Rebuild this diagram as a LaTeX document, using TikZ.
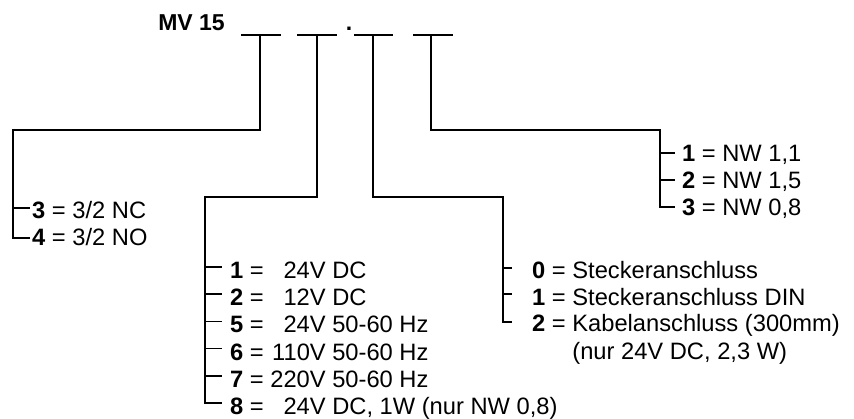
\documentclass[tikz,border=0pt]{standalone}
\usepackage{fontspec}
\setmainfont{Liberation Sans}
\usetikzlibrary{positioning}
\tikzset{
  opt/.style={anchor=base west, inner sep=0pt, font=\fontsize{23.7}{27}\selectfont},
  code/.style={anchor=base, inner sep=0pt, font=\bfseries\fontsize{23}{27}\selectfont},
  wire/.style={line width=1.6pt},
}
% voltage column, right aligned
\newcommand{\volt}[1]{\hphantom{220V}\llap{#1}}

\begin{document}
\begin{tikzpicture}[x=1pt, y=-1pt]
  \useasboundingbox (0,0) rectangle (854,418);
  % Typenschluessel
  \node[code] (mv) at (191.5,30) {MV 15};
  \node[code] (dot) at (349,30) {.};
  \foreach \n/\xa/\xb in {1/241/281, 2/297/337, 3/354/393, 4/413/453} {
    \draw[wire] (\xa,35) -- (\xb,35);
  }
  \coordinate (s1) at (260,35);
  \coordinate (s2) at (317,35);
  \coordinate (s3) at (373,35);
  \coordinate (s4) at (431,35);

  % Ausfuehrung
  \node[opt] (a3) at (32,218.5) {\textbf{3} = 3/2 NC};
  \node[opt] (a4) at (32,245.5) {\textbf{4} = 3/2 NO};
  \draw[wire] (s1) |- (13,130) |- (30,238);
  \draw[wire] (13,208) -- (30,208);

  % Spannung
  \foreach \k/\txt [count=\i] in {1/{\volt{24V} DC}, 2/{\volt{12V} DC},
      5/{\volt{24V} 50-60 Hz}, 6/{\volt{110V} 50-60 Hz},
      7/{\volt{220V} 50-60 Hz}, 8/{\volt{24V} DC, 1W (nur NW 0,8)}} {
    \node[opt] (v\i) at (230,{278.5+27.2*(\i-1)}) {\textbf{\k} = \txt};
  }
  \draw[wire] (s2) |- (205,197) |- (222,403);
  \foreach \i in {1,...,5} {
    \draw[wire] (205,{267+27.2*(\i-1)}) -- ++(17,0);
  }

  % Anschluss
  \node[opt] (c0) at (532,278.5) {\textbf{0} = Steckeranschluss};
  \node[opt] (c1) at (532,305.5) {\textbf{1} = Steckeranschluss DIN};
  \node[opt] (c2) at (532,331.5) {\textbf{2} = Kabelanschluss (300mm)};
  \node[opt] (c2n) at (532,359.5) {\hphantom{\textbf{2} = }(nur 24V DC, 2,3 W)};
  \draw[wire] (s3) |- (503,197) |- (512,322);
  \draw[wire] (503,268) -- ++(9,0);
  \draw[wire] (503,294) -- ++(9,0);

  % Nennweite
  \node[opt] (n1) at (682,161.5) {\textbf{1} = NW 1,1};
  \node[opt] (n2) at (682,188.5) {\textbf{2} = NW 1,5};
  \node[opt] (n3) at (682,215.5) {\textbf{3} = NW 0,8};
  \draw[wire] (s4) |- (660,130) |- (675,207);
  \draw[wire] (660,153) -- ++(15,0);
  \draw[wire] (660,180) -- ++(15,0);
\end{tikzpicture}
\end{document}
